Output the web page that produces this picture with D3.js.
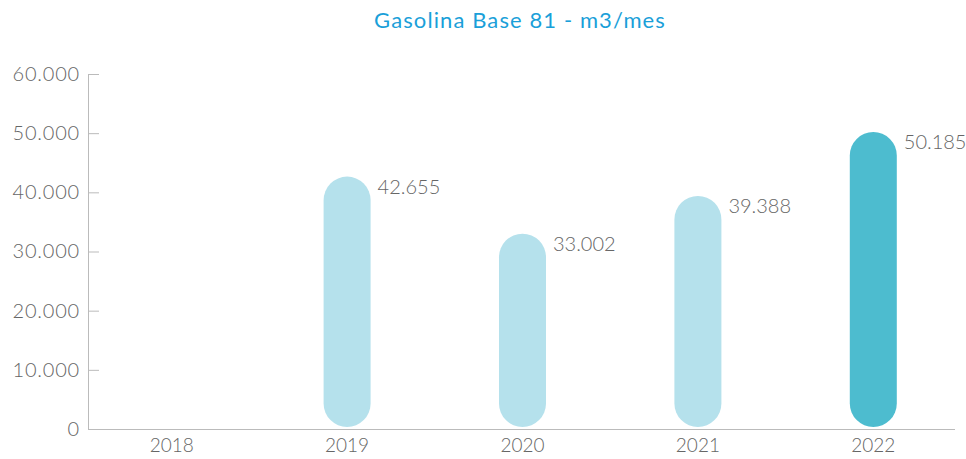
<!DOCTYPE html>
<html>
<head>
<meta charset="utf-8">
<script src="https://cdn.jsdelivr.net/npm/d3@7"></script>
<style>
  body { margin: 0; background: #fff; }
  svg { display: block; font-family: Lato, "Noto Sans", sans-serif; }
</style>
</head>
<body>
<svg id="svg" width="966" height="459"></svg>
<script>
var years = ["2018", "2019", "2020", "2021", "2022"];
var values = [null, 42655, 33002, 39388, 50185];
var yTicks = [0, 10000, 20000, 30000, 40000, 50000, 60000];
var title = "Gasolina Base 81 - m3/mes";

var svg = d3.select("#svg");
var locale = d3.formatLocale({ decimal: ",", thousands: ".", grouping: [3], currency: ["", ""] });
var fmt = locale.format(",d");

var x = d3.scaleBand().domain(years).range([84, 961]);
var y = d3.scaleLinear().domain([0, 60000]).range([429, 74]);
var barW = 47;

svg.append("text")
  .attr("x", 520).attr("y", 28)
  .attr("text-anchor", "middle")
  .attr("fill", "#1a9fd9")
  .attr("font-size", 22)
  .attr("letter-spacing", 1.1)
  .text(title);

// y axis
var yAxis = svg.append("g")
  .attr("transform", "translate(88,0)")
  .call(d3.axisLeft(y).tickValues(yTicks).tickSize(-11).tickPadding(8).tickFormat(fmt));
yAxis.select(".domain").attr("stroke", "#bbb");
yAxis.selectAll(".tick line").attr("stroke", "#bbb");
yAxis.selectAll("text").attr("fill", "#666").attr("font-size", 20).attr("font-weight", 300)
  .attr("letter-spacing", 0.8).attr("font-family", "Lato, sans-serif");

// x axis
var xAxis = svg.append("g")
  .attr("transform", "translate(0,429)")
  .call(d3.axisBottom(x).tickSize(0).tickPadding(10));
xAxis.select(".domain").attr("stroke", "#bbb").attr("d", "M88,0.5H955");
xAxis.selectAll("text").attr("fill", "#666").attr("font-size", 19).attr("font-weight", 300)
  .attr("font-family", "Lato, sans-serif");

var data = years.map(function(d, i) { return { year: d, value: values[i] }; })
  .filter(function(d) { return d.value != null; });

svg.selectAll("rect.bar").data(data).enter().append("rect")
  .attr("class", "bar")
  .attr("x", function(d) { return x(d.year) + x.bandwidth() / 2 - barW / 2; })
  .attr("y", function(d) { return y(d.value); })
  .attr("width", barW)
  .attr("height", function(d) { return y(0) - y(d.value) - 2; })
  .attr("rx", barW / 2)
  .attr("fill", function(d) { return d.year === "2022" ? "#4dbccf" : "#b5e1ec"; });

svg.selectAll("text.val").data(data).enter().append("text")
  .attr("class", "val")
  .attr("x", function(d) { return x(d.year) + x.bandwidth() / 2 + barW / 2 + 7; })
  .attr("y", function(d) { return y(d.value) + 17; })
  .attr("fill", "#666")
  .attr("font-size", 20)
  .attr("font-weight", 300)
  .attr("font-family", "Lato, sans-serif")
  .text(function(d) { return fmt(d.value); });
</script>
</body>
</html>
